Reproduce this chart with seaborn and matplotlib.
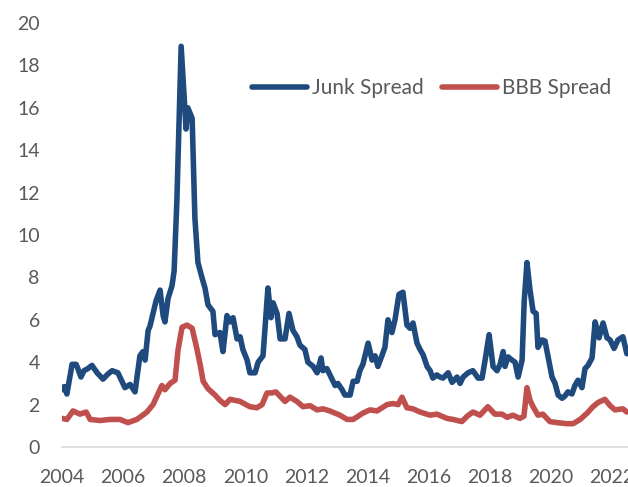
import matplotlib
matplotlib.use("Agg")
import matplotlib.pyplot as plt
import numpy as np
import pandas as pd
import seaborn as sns

# Junk (high-yield) spread, percentage points, by fractional year
junk_years = [
    2004.00, 2004.07, 2004.16, 2004.33, 2004.46, 2004.52, 2004.62, 2004.72, 2004.85, 2004.98,
    2005.15, 2005.34, 2005.51, 2005.64, 2005.83, 2005.93, 2006.06, 2006.23, 2006.39, 2006.55,
    2006.65, 2006.72, 2006.82, 2006.88, 2007.08, 2007.21, 2007.31, 2007.37, 2007.47, 2007.60,
    2007.67, 2007.76, 2007.90, 2008.06, 2008.12, 2008.26, 2008.35, 2008.45, 2008.58, 2008.68,
    2008.78, 2008.94, 2009.01, 2009.17, 2009.27, 2009.40, 2009.50, 2009.60, 2009.73, 2009.83,
    2009.92, 2010.06, 2010.15, 2010.32, 2010.42, 2010.58, 2010.74, 2010.84, 2010.91, 2011.04,
    2011.14, 2011.30, 2011.43, 2011.56, 2011.69, 2011.79, 2011.95, 2012.05, 2012.22, 2012.35,
    2012.48, 2012.54, 2012.67, 2012.84, 2012.94, 2013.03, 2013.17, 2013.26, 2013.43, 2013.53,
    2013.66, 2013.75, 2013.85, 2014.02, 2014.15, 2014.25, 2014.34, 2014.47, 2014.57, 2014.67,
    2014.80, 2014.90, 2015.03, 2015.16, 2015.29, 2015.39, 2015.49, 2015.62, 2015.72, 2015.82,
    2015.95, 2016.05, 2016.14, 2016.27, 2016.37, 2016.47, 2016.64, 2016.77, 2016.93, 2017.03,
    2017.13, 2017.29, 2017.45, 2017.62, 2017.75, 2017.85, 2017.98, 2018.11, 2018.24, 2018.34,
    2018.44, 2018.50, 2018.60, 2018.73, 2018.83, 2018.93, 2019.06, 2019.13, 2019.22, 2019.32,
    2019.42, 2019.52, 2019.58, 2019.71, 2019.81, 2019.91, 2020.04, 2020.14, 2020.24, 2020.37,
    2020.46, 2020.56, 2020.69, 2020.79, 2020.89, 2021.02, 2021.12, 2021.22, 2021.35, 2021.45,
    2021.58, 2021.71, 2021.84, 2021.94, 2022.07, 2022.20, 2022.36, 2022.49,
]
junk_spread = [
    2.7, 2.85, 2.5, 3.9, 3.9, 3.7, 3.3, 3.6, 3.7, 3.85,
    3.5, 3.2, 3.45, 3.6, 3.5, 3.2, 2.8, 2.95, 2.6, 4.3,
    4.5, 4.1, 5.5, 5.7, 6.9, 7.4, 6.2, 5.9, 7.0, 7.6,
    8.3, 11.6, 18.9, 15.0, 16.0, 15.5, 10.8, 8.7, 8.0, 7.5,
    6.7, 6.4, 5.3, 5.4, 4.5, 6.2, 5.9, 6.1, 5.1, 5.2,
    4.6, 4.1, 3.5, 3.5, 4.0, 4.3, 7.5, 6.1, 6.8, 6.3,
    5.1, 5.1, 6.3, 5.5, 5.2, 4.8, 4.6, 4.0, 3.8, 3.5,
    4.2, 3.6, 3.7, 3.2, 2.9, 3.0, 2.7, 2.45, 2.45, 3.1,
    3.1, 3.6, 3.9, 4.9, 4.1, 4.3, 3.8, 4.3, 4.7, 6.0,
    5.4, 6.0, 7.2, 7.3, 5.75, 5.6, 5.85, 4.9, 4.6, 4.35,
    3.8, 3.6, 3.25, 3.4, 3.3, 3.25, 3.5, 3.05, 3.3, 3.0,
    3.3, 3.5, 3.6, 3.25, 3.25, 4.1, 5.3, 3.8, 3.6, 3.9,
    4.5, 3.8, 4.25, 4.1, 4.0, 3.3, 4.1, 6.9, 8.7, 7.4,
    6.4, 6.3, 4.7, 5.05, 5.0, 4.25, 3.3, 3.0, 2.45, 2.3,
    2.4, 2.6, 2.5, 2.9, 3.15, 2.8, 3.7, 3.85, 4.2, 5.9,
    5.15, 5.85, 5.15, 5.05, 4.65, 5.05, 5.2, 4.4,
]

# BBB corporate spread, percentage points, by fractional year
bbb_years = [
    2004.00, 2004.16, 2004.36, 2004.59, 2004.79, 2004.92, 2005.24, 2005.57, 2005.90, 2006.16,
    2006.45, 2006.78, 2006.98, 2007.27, 2007.37, 2007.54, 2007.70, 2007.80, 2007.93, 2008.09,
    2008.26, 2008.42, 2008.52, 2008.62, 2008.78, 2009.01, 2009.17, 2009.34, 2009.50, 2009.83,
    2010.15, 2010.38, 2010.55, 2010.71, 2010.87, 2011.00, 2011.20, 2011.30, 2011.46, 2011.69,
    2011.89, 2012.12, 2012.35, 2012.54, 2012.77, 2013.10, 2013.33, 2013.53, 2013.85, 2014.08,
    2014.31, 2014.64, 2014.83, 2015.00, 2015.13, 2015.29, 2015.49, 2015.72, 2016.05, 2016.27,
    2016.60, 2016.80, 2017.09, 2017.26, 2017.45, 2017.68, 2017.94, 2018.17, 2018.40, 2018.57,
    2018.76, 2018.99, 2019.12, 2019.22, 2019.32, 2019.42, 2019.58, 2019.74, 2019.97, 2020.20,
    2020.53, 2020.73, 2020.96, 2021.19, 2021.38, 2021.55, 2021.77, 2021.94, 2022.10, 2022.36,
    2022.49,
]
bbb_spread = [
    1.35, 1.3, 1.7, 1.55, 1.65, 1.3, 1.25, 1.3, 1.3, 1.15,
    1.3, 1.65, 2.0, 2.9, 2.7, 3.0, 3.15, 4.6, 5.65, 5.75,
    5.6, 4.6, 3.9, 3.1, 2.75, 2.45, 2.2, 2.0, 2.25, 2.15,
    1.9, 1.85, 2.0, 2.55, 2.55, 2.6, 2.3, 2.15, 2.35, 2.15,
    1.9, 1.95, 1.75, 1.8, 1.7, 1.5, 1.3, 1.3, 1.6, 1.75,
    1.7, 2.0, 2.05, 2.0, 2.35, 1.85, 1.8, 1.65, 1.5, 1.55,
    1.35, 1.3, 1.2, 1.45, 1.65, 1.5, 1.9, 1.55, 1.55, 1.4,
    1.5, 1.35, 1.45, 2.8, 2.2, 1.9, 1.5, 1.55, 1.2, 1.15,
    1.1, 1.1, 1.3, 1.6, 1.9, 2.1, 2.25, 1.95, 1.75, 1.8,
    1.65,
]

series_names = ["Junk Spread", "BBB Spread"]
series_colors = ["#1F4A7D", "#C0504D"]
x_ticks = list(range(2004, 2023, 2))
y_ticks = list(range(0, 21, 2))

df = pd.concat([
    pd.DataFrame({"year": junk_years, "spread": junk_spread, "series": series_names[0]}),
    pd.DataFrame({"year": bbb_years, "spread": bbb_spread, "series": series_names[1]}),
], ignore_index=True)

sns.set_style("white")
plt.rcParams["font.family"] = ["Lato", "DejaVu Sans"]

W, H = 628, 487
fig = plt.figure(figsize=(W / 100, H / 100), dpi=100)
ax = fig.add_axes([62 / W, 40 / H, 566 / W, 424 / H])

sns.lineplot(
    data=df, x="year", y="spread", hue="series",
    hue_order=series_names, palette=dict(zip(series_names, series_colors)),
    linewidth=4, ax=ax, sort=False, estimator=None,
    solid_capstyle="round", solid_joinstyle="round",
)

ax.set_xlim(2004, 2004 + 566 / 30.55)
ax.set_ylim(0, 20)
ax.set_xticks(x_ticks)
ax.set_yticks(y_ticks)
ax.set_xlabel("")
ax.set_ylabel("")

text_color = "#595959"
ax.tick_params(axis="x", length=5, width=1.2, color="#D9D9D9", pad=11,
               labelsize=14, labelcolor=text_color, direction="out")
ax.tick_params(axis="y", length=0, pad=16, labelsize=14, labelcolor=text_color)

for side in ["top", "right", "left"]:
    ax.spines[side].set_visible(False)
ax.spines["bottom"].set_color("#D9D9D9")
ax.spines["bottom"].set_linewidth(1.2)
ax.grid(False)

handles, labels = ax.get_legend_handles_labels()
ax.legend(
    handles, labels, ncol=2, frameon=False, fontsize=15,
    labelcolor=text_color, handlelength=2.65, handletextpad=0.25,
    columnspacing=0.85, loc="center",
    bbox_to_anchor=(431.5 / W, 1 - 88 / H), bbox_transform=fig.transFigure,
)
for line in ax.get_legend().get_lines():
    line.set_linewidth(4)
    line.set_solid_capstyle("round")

fig.savefig("out.png", dpi=100)
